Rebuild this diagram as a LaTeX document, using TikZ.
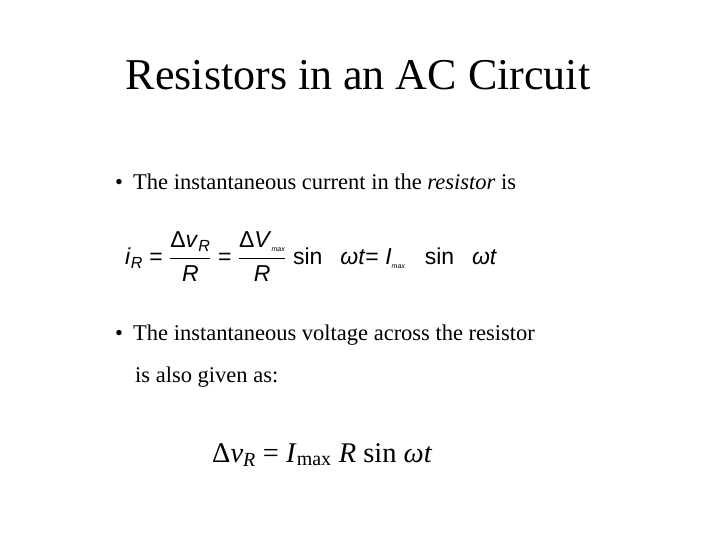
\documentclass[tikz,border=0pt]{standalone}
\usepackage{fontspec}
\setmainfont{Liberation Serif}
\newfontfamily\eqsans{Liberation Sans}
\begin{document}
\begin{tikzpicture}[x=1pt,y=-1pt,
  every node/.style={inner sep=0pt,anchor=base west},
  bullet/.style={font=\fontsize{22.5}{27}\selectfont}]
\useasboundingbox[fill=white] (0,0) rectangle (720,540);
\node[anchor=base,font=\fontsize{44}{52}\selectfont] (title) at (358,90) {Resistors in an AC Circuit};
\node[bullet] (b1) at (115,190) {\textbullet\hspace{0.45em}The instantaneous current in the \textit{resistor} is};
\node[font=\eqsans\fontsize{23}{27}\selectfont,anchor=west] (eq1) at (125,257)
 {$\displaystyle\mbox{\textit{i}\textsubscript{\textit{R}} = }\frac{\mbox{Δ\textit{v}\textsubscript{\textit{R}}}}{\mbox{\textit{R}}}\mbox{ = }\frac{\mbox{Δ\textit{V}\textsubscript{\textit{\scriptsize max}}}}{\mbox{\textit{R}}}\mbox{ sin\enspace\ \textit{ωt}= \textit{I}\textsubscript{\textit{\scriptsize max}}\ \ \ sin\enspace\ \textit{ωt}}$};
\node[bullet] (b2) at (115,340) {\textbullet\hspace{0.45em}The instantaneous voltage across the resistor};
\node[bullet] (b2b) at (135,382) {is also given as:};
\node[font=\fontsize{28.5}{34}\selectfont] (eq2) at (212,462)
 {Δ\textit{v}\textsubscript{\textit{R}} = \textit{I}\textsubscript{max} \textit{R} sin \textit{ωt}};
\end{tikzpicture}
\end{document}
